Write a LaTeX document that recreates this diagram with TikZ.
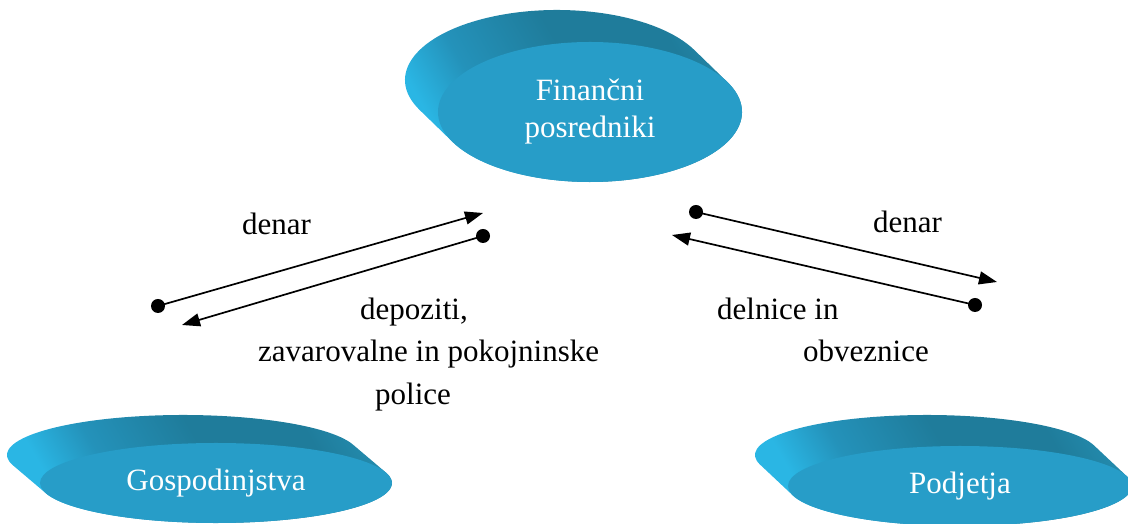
\documentclass[tikz,border=0pt]{standalone}
\usepackage{fontspec}
\setmainfont{Liberation Serif}
\usetikzlibrary{arrows.meta,shapes.geometric,calc}
\definecolor{diskF}{RGB}{39,157,200}
\definecolor{diskL}{RGB}{42,182,228}
\definecolor{diskA}{RGB}{36,146,186}
\definecolor{diskM}{RGB}{31,124,155}
\definecolor{diskR}{RGB}{35,138,172}
\pgfdeclarehorizontalshading{diskshade}{100bp}{color(0bp)=(diskL); color(25bp)=(diskL); color(28bp)=(diskL); color(37bp)=(diskA); color(52bp)=(diskM); color(68bp)=(diskM); color(75bp)=(diskR); color(100bp)=(diskR)}
\tikzset{
  diskside/.style={shading=diskshade, shading angle=30},
  diskfront/.style={ellipse, fill=diskF, inner sep=0pt, text=white, align=center,
    font=\fontsize{31}{37}\selectfont},
  lbl/.style={anchor=base west, inner sep=0pt, font=\fontsize{31}{42}\selectfont},
  flow/.style={line width=1.7pt, -{Triangle[length=18pt,width=13pt]}},
  dot/.style={fill=black},
}
\begin{document}
\begin{tikzpicture}[x=1pt,y=1pt]
\useasboundingbox (0,0) rectangle (1128,524);
% top disk
\coordinate (bT) at (557,444);
\coordinate (fT) at (590,412);
\path[diskside] ($(bT)+(25.4:152 and 70)$) arc[start angle=25.4, end angle=205.4, x radius=152, y radius=70]
  -- ($(fT)+(205.4:152 and 70)$) arc[start angle=205.4, end angle=385.4, x radius=152, y radius=70] -- cycle;
\node[diskfront, minimum width=304pt, minimum height=140pt] (fin) at (fT) {Finančni\\posredniki};
% left disk
\coordinate (bL) at (183,69);
\coordinate (fL) at (216,41);
\path[diskside] ($(bL)+(15:176 and 40)$) arc[start angle=15, end angle=195, x radius=176, y radius=40]
  -- ($(fL)+(195:176 and 40)$) arc[start angle=195, end angle=375, x radius=176, y radius=40] -- cycle;
\node[diskfront, minimum width=352pt, minimum height=80pt] (gos) at (fL) {Gospodinjstva};
% right disk
\coordinate (bR) at (927,69);
\coordinate (fR) at (960,38);
\path[diskside] ($(bR)+(13.9:172 and 40)$) arc[start angle=13.9, end angle=193.9, x radius=172, y radius=40]
  -- ($(fR)+(193.9:172 and 40)$) arc[start angle=193.9, end angle=373.9, x radius=172, y radius=40] -- cycle;
\node[diskfront, minimum width=344pt, minimum height=80pt] (pod) at (fR) {Podjetja};
% connectors
\coordinate (l1s) at (158,218); \coordinate (l1e) at (483,311);
\coordinate (l2s) at (483,288); \coordinate (l2e) at (182,199);
\coordinate (r1s) at (696,312); \coordinate (r1e) at (997,242);
\coordinate (r2s) at (975,219); \coordinate (r2e) at (672,289);
\draw[flow] (l1s) -- (l1e);
\draw[flow] (l2s) -- (l2e);
\draw[flow] (r1s) -- (r1e);
\draw[flow] (r2s) -- (r2e);
\foreach \p in {l1s,l2s,r1s,r2s} \fill[dot] (\p) circle (7pt);
% labels
\node[lbl] (t1) at (242,289) {denar};
\node[lbl] (t2) at (360,204) {depoziti,};
\node[lbl] (t3) at (258,162) {zavarovalne in pokojninske};
\node[lbl] (t4) at (375,119) {police};
\node[lbl] (t5) at (873,291) {denar};
\node[lbl] (t6) at (717,204) {delnice in};
\node[lbl] (t7) at (803,162) {obveznice};
\end{tikzpicture}
\end{document}
